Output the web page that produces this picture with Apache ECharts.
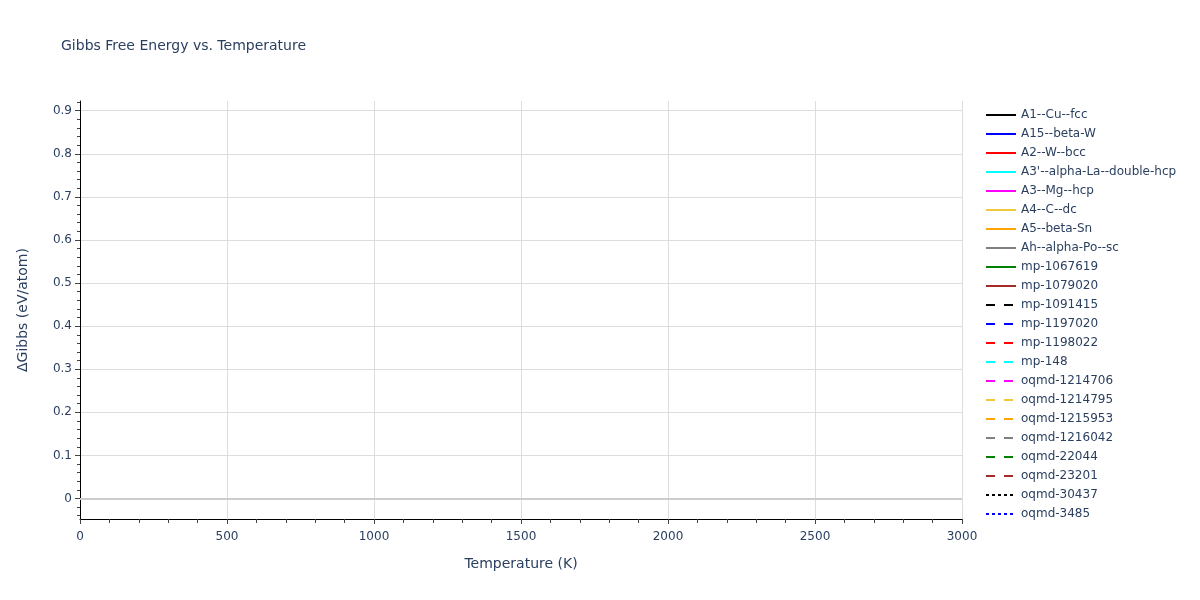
<!DOCTYPE html>
<html>
<head>
<meta charset="utf-8">
<script src="https://cdn.jsdelivr.net/npm/echarts@6/dist/echarts.min.js"></script>
<style>html,body{margin:0;padding:0;background:#fff}#c{width:1200px;height:600px}</style>
</head>
<body>
<div id="c"></div>
<script>
const seriesNames = [
  "A1--Cu--fcc","A15--beta-W","A2--W--bcc","A3'--alpha-La--double-hcp","A3--Mg--hcp",
  "A4--C--dc","A5--beta-Sn","Ah--alpha-Po--sc","mp-1067619","mp-1079020",
  "mp-1091415","mp-1197020","mp-1198022","mp-148","oqmd-1214706",
  "oqmd-1214795","oqmd-1215953","oqmd-1216042","oqmd-22044","oqmd-23201",
  "oqmd-30437","oqmd-3485"
];
const seriesColors = [
  "#000000","#0000ff","#ff0000","#00ffff","#ff00ff","#f0c83c","#ffa500","#808080","#008000","#a52a2a",
  "#000000","#0000ff","#ff0000","#00ffff","#ff00ff","#f0c83c","#ffa500","#808080","#008000","#a52a2a",
  "#000000","#0000ff"
];
const seriesDash = [
  "solid","solid","solid","solid","solid","solid","solid","solid","solid","solid",
  "dash","dash","dash","dash","dash","dash","dash","dash","dash","dash",
  "dot","dot"
];
// No curves are visible in the reference plot: every series has no points.
const temperatures = [];
const gibbsValues = seriesNames.map(() => []);
const yTickMin = 0, yTickMax = 0.9, yTickStep = 0.1;      // labelled ticks 0 ... 0.9
const yMinorMin = -0.04, yMinorMax = 0.92, yMinorStep = 0.02;
const yRange = [-0.0476, 0.9225];
const xRange = [0, 3000], xTickStep = 500;

const dashMap = { solid: 'solid', dash: [9, 9], dot: [3, 3] };
const txt = '#2a3f5f';
const font = 'DejaVu Sans, Verdana, sans-serif';
const tickColor = '#444';

// layout of the plot box (pixels)
const plotTop = 101, plotBottom = 81, plotLeft = 80, plotRight = 238, H = 600;
const ppu = (H - plotTop - plotBottom) / (yRange[1] - yRange[0]);
const gridFor = (lo, hi) => ({
  left: plotLeft, right: plotRight,
  top: plotTop + (yRange[1] - hi) * ppu,
  bottom: plotBottom + (lo - yRange[0]) * ppu
});

const series = seriesNames.map((n, i) => ({
  name: n,
  type: 'line',
  symbol: 'none',
  xAxisIndex: 0, yAxisIndex: 0,
  data: gibbsValues[i].map((v, j) => [temperatures[j], v]),
  lineStyle: { color: seriesColors[i], width: 2, type: dashMap[seriesDash[i]] },
  itemStyle: { color: seriesColors[i] }
}));
series[0].markLine = {
  silent: true, symbol: 'none', label: { show: false },
  lineStyle: { color: '#cccccc', width: 2, type: 'solid' },
  data: [{ yAxis: 0 }], animation: false
};

const hiddenX = gi => ({ type: 'value', gridIndex: gi, min: xRange[0], max: xRange[1], show: false });

const chart = echarts.init(document.getElementById('c'), null, { renderer: 'canvas' });
chart.setOption({
  animation: false,
  backgroundColor: '#fff',
  title: {
    text: 'Gibbs Free Energy vs. Temperature',
    left: 56, top: 34,
    textStyle: { color: txt, fontSize: 14, fontWeight: 'normal', fontFamily: font }
  },
  legend: {
    orient: 'vertical', left: 980, top: 104,
    itemWidth: 30, itemHeight: 12, itemGap: 7,
    itemStyle: { opacity: 0, color: 'rgba(0,0,0,0)', borderWidth: 0 },
    textStyle: { color: txt, fontSize: 12, fontFamily: font },
    data: seriesNames
  },
  grid: [
    { left: plotLeft, right: plotRight, top: plotTop, bottom: plotBottom },
    gridFor(yTickMin, yTickMax),
    gridFor(yMinorMin, yMinorMax)
  ],
  xAxis: [{
    type: 'value', gridIndex: 0, min: xRange[0], max: xRange[1], interval: xTickStep,
    name: 'Temperature (K)', nameLocation: 'middle', nameGap: 38,
    nameTextStyle: { color: txt, fontSize: 14, fontFamily: font },
    axisLine: { show: true, onZero: false, lineStyle: { color: '#000', width: 1 } },
    axisTick: { show: true, length: 5, lineStyle: { color: tickColor } },
    minorTick: { show: true, splitNumber: 5, length: 4, lineStyle: { color: tickColor } },
    axisLabel: { color: txt, fontSize: 12, fontFamily: font, margin: 12, formatter: v => String(v) },
    splitLine: { show: true, lineStyle: { color: '#dddddd', width: 1 } }
  }, hiddenX(1), hiddenX(2)],
  yAxis: [{
    type: 'value', gridIndex: 0, min: yRange[0], max: yRange[1],
    name: 'ΔGibbs (eV/atom)', nameLocation: 'middle', nameGap: 50,
    nameTextStyle: { color: txt, fontSize: 14, fontFamily: font },
    axisLine: { show: true, onZero: false, lineStyle: { color: '#000', width: 1 } },
    axisTick: { show: false }, axisLabel: { show: false }, splitLine: { show: false }
  }, {
    type: 'value', gridIndex: 1, min: yTickMin, max: yTickMax, interval: yTickStep,
    axisLine: { show: false },
    axisTick: { show: true, length: 5, lineStyle: { color: tickColor } },
    axisLabel: {
      color: txt, fontSize: 12, fontFamily: font, margin: 8,
      formatter: v => String(Math.round(v * 10) / 10)
    },
    splitLine: { show: true, lineStyle: { color: '#dddddd', width: 1 } }
  }, {
    type: 'value', gridIndex: 2, min: yMinorMin, max: yMinorMax, interval: yMinorStep,
    axisLine: { show: false },
    axisTick: { show: true, length: 3, lineStyle: { color: tickColor } },
    axisLabel: { show: false },
    splitLine: { show: false }
  }],
  series: series
});
</script>
</body>
</html>
